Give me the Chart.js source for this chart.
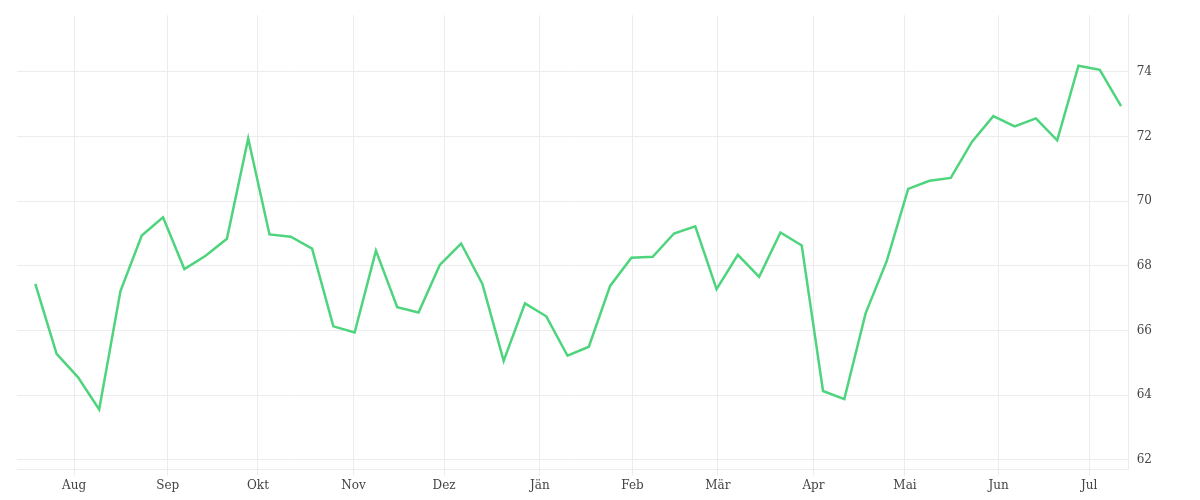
<!DOCTYPE html>
<html><head><meta charset="utf-8">
<script src="https://cdn.jsdelivr.net/npm/chart.js@4"></script>
<style>html,body{margin:0;background:#fff}#wrap{width:1200px;height:500px}</style>
</head><body><div id="wrap"><canvas id="chart-canvas"></canvas></div>
<script>
const values = [67.44,65.28,64.56,63.56,67.22,68.94,69.5,67.9,68.31,68.84,71.94,68.97,68.9,68.53,66.13,65.94,68.47,66.72,66.56,68.03,68.69,67.44,65.06,66.84,66.44,65.22,65.5,67.38,68.25,68.28,69.0,69.22,67.28,68.34,67.66,69.03,68.63,64.13,63.88,66.53,68.16,70.38,70.63,70.72,71.84,72.63,72.31,72.56,71.88,74.19,74.06,72.94]
const month_labels = ['Aug','Sep','Okt','Nov','Dez','Jän','Feb','Mär','Apr','Mai','Jun','Jul']
const month_positions = [1.82,6.22,10.46,14.95,19.2,23.7,28.05,32.06,36.55,40.85,45.25,49.5]
const y_ticks = [62,64,66,68,70,72,74]

const points = values.map((v, i) => ({x: i, y: v}))
const font = {family: 'DejaVu Serif', size: 12}

new Chart(document.getElementById('chart-canvas'), {
	type: 'line',
	data: {datasets: [{data: points, borderColor: '#4ed47d', borderWidth: 2.5, pointRadius: 0, tension: 0}]},
	options: {
		responsive: true, maintainAspectRatio: false, animation: false,
		layout: {padding: {left: 17, top: 12, right: 40, bottom: 4}},
		plugins: {legend: {display: false}, tooltip: {enabled: false}},
		scales: {
			x: {
				type: 'linear', min: -0.86, max: 51.36,
				afterBuildTicks: axis => { axis.ticks = month_positions.map(v => ({value: v})) },
				ticks: {font: font, color: '#444', autoSkip: false, maxRotation: 0,
					callback: (v, i) => month_labels[i]},
				grid: {color: '#ececec', drawTicks: true, tickLength: 6},
				border: {color: '#ececec'}
			},
			y: {
				position: 'right', min: 61.7, max: 75.75,
				afterBuildTicks: axis => { axis.ticks = y_ticks.map(v => ({value: v})) },
				ticks: {font: font, color: '#444', padding: 8},
				grid: {color: '#ececec', drawTicks: false},
				border: {color: '#ececec'}
			}
		}
	}
})
</script></body></html>
